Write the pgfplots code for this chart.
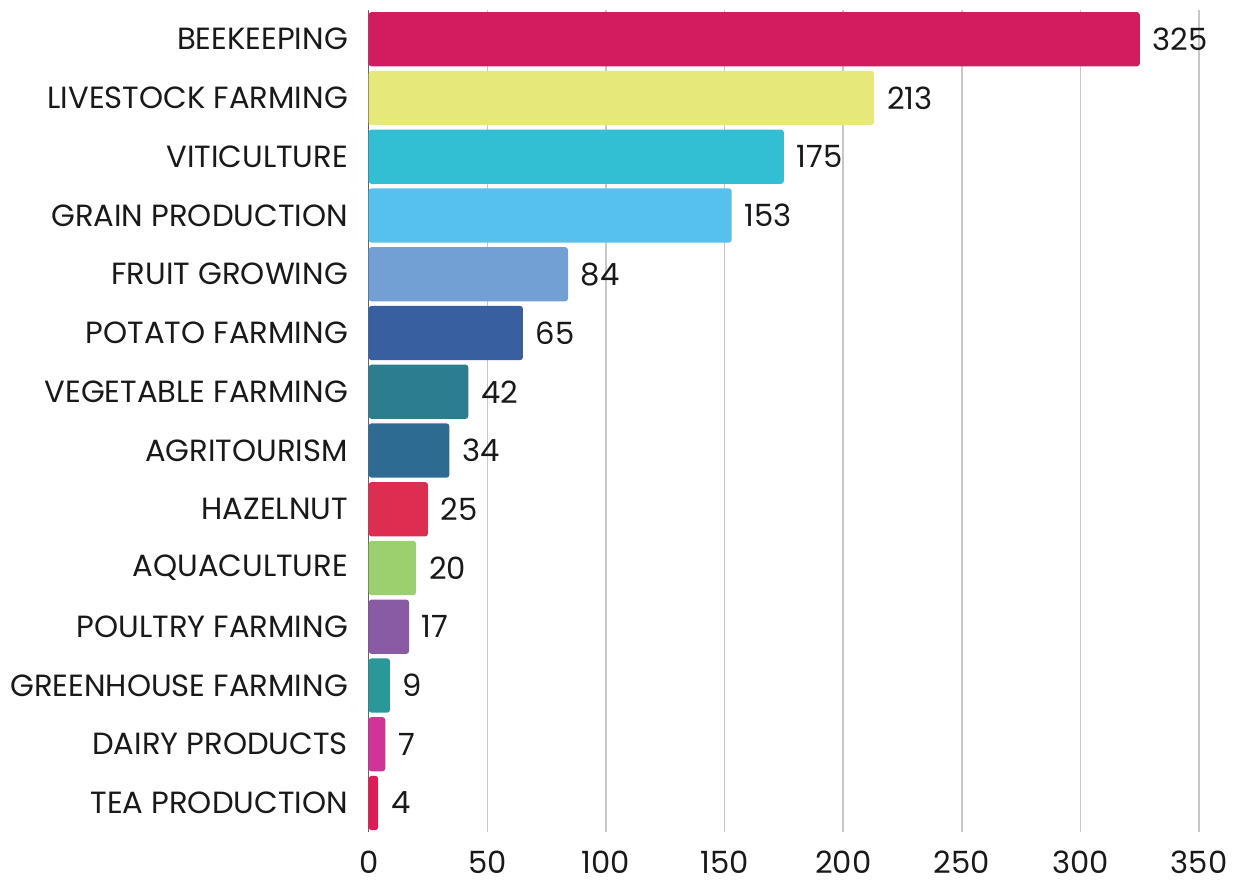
\documentclass[border=0pt]{standalone}
\usepackage{pgfplots}
\pgfplotsset{compat=1.18}
\usepackage{fontspec}
\setmainfont{Poppins}

\definecolor{cBee}{HTML}{D31B5F}
\definecolor{cLive}{HTML}{E6E87A}
\definecolor{cViti}{HTML}{33BFD3}
\definecolor{cGrain}{HTML}{56C1EC}
\definecolor{cFruit}{HTML}{72A0D5}
\definecolor{cPotato}{HTML}{385FA0}
\definecolor{cVeg}{HTML}{2C7E8E}
\definecolor{cAgri}{HTML}{2D6B92}
\definecolor{cHazel}{HTML}{DD2E52}
\definecolor{cAqua}{HTML}{9CD06E}
\definecolor{cPoul}{HTML}{8A5BA5}
\definecolor{cGreen}{HTML}{2A9898}
\definecolor{cDairy}{HTML}{CF3496}
\definecolor{cTea}{HTML}{DE1A57}

\begin{document}
\begin{tikzpicture}
  \begin{axis}[
      scale only axis,
      width=420pt, height=416pt,
      xbar, bar width=27.5pt, bar shift=0pt,
      xmin=0, xmax=350,
      ymin=-0.5, ymax=13.5,
      xtick={0,50,...,350},
      ytick={0,...,13},
      yticklabels={TEA PRODUCTION, DAIRY PRODUCTS, GREENHOUSE FARMING,
        POULTRY FARMING, AQUACULTURE, HAZELNUT, AGRITOURISM,
        VEGETABLE FARMING, POTATO FARMING, FRUIT GROWING,
        GRAIN PRODUCTION, VITICULTURE, LIVESTOCK FARMING, BEEKEEPING},
      axis lines*=left,
      x axis line style={draw=none},
      y axis line style={draw=black!60, line width=0.6pt},
      major tick length=0pt,
      xmajorgrids,
      grid style={draw=black!22, line width=0.8pt},
      tick label style={font=\fontsize{15.5}{18}\selectfont, text=black!90},
      /pgf/number format/assume math mode=true,
      yticklabel style={xshift=-7pt},
      xticklabel style={yshift=-6pt},
      nodes near coords,
      every node near coord/.append style={font=\fontsize{15.5}{18}\selectfont,
        text=black!90, anchor=west, xshift=3pt},
      clip=false,
    ]
    \addplot[fill=cTea, draw=none, rounded corners=1.5pt] coordinates {(4,0)};
    \addplot[fill=cDairy, draw=none, rounded corners=1.5pt] coordinates {(7,1)};
    \addplot[fill=cGreen, draw=none, rounded corners=1.5pt] coordinates {(9,2)};
    \addplot[fill=cPoul, draw=none, rounded corners=1.5pt] coordinates {(17,3)};
    \addplot[fill=cAqua, draw=none, rounded corners=1.5pt] coordinates {(20,4)};
    \addplot[fill=cHazel, draw=none, rounded corners=1.5pt] coordinates {(25,5)};
    \addplot[fill=cAgri, draw=none, rounded corners=1.5pt] coordinates {(34,6)};
    \addplot[fill=cVeg, draw=none, rounded corners=1.5pt] coordinates {(42,7)};
    \addplot[fill=cPotato, draw=none, rounded corners=1.5pt] coordinates {(65,8)};
    \addplot[fill=cFruit, draw=none, rounded corners=1.5pt] coordinates {(84,9)};
    \addplot[fill=cGrain, draw=none, rounded corners=1.5pt] coordinates {(153,10)};
    \addplot[fill=cViti, draw=none, rounded corners=1.5pt] coordinates {(175,11)};
    \addplot[fill=cLive, draw=none, rounded corners=1.5pt] coordinates {(213,12)};
    \addplot[fill=cBee, draw=none, rounded corners=1.5pt] coordinates {(325,13)};
    % page area of the reference
    \path (rel axis cs:-0.444,-0.0613) rectangle (rel axis cs:1.025,1.012);
  \end{axis}
\end{tikzpicture}
\end{document}
